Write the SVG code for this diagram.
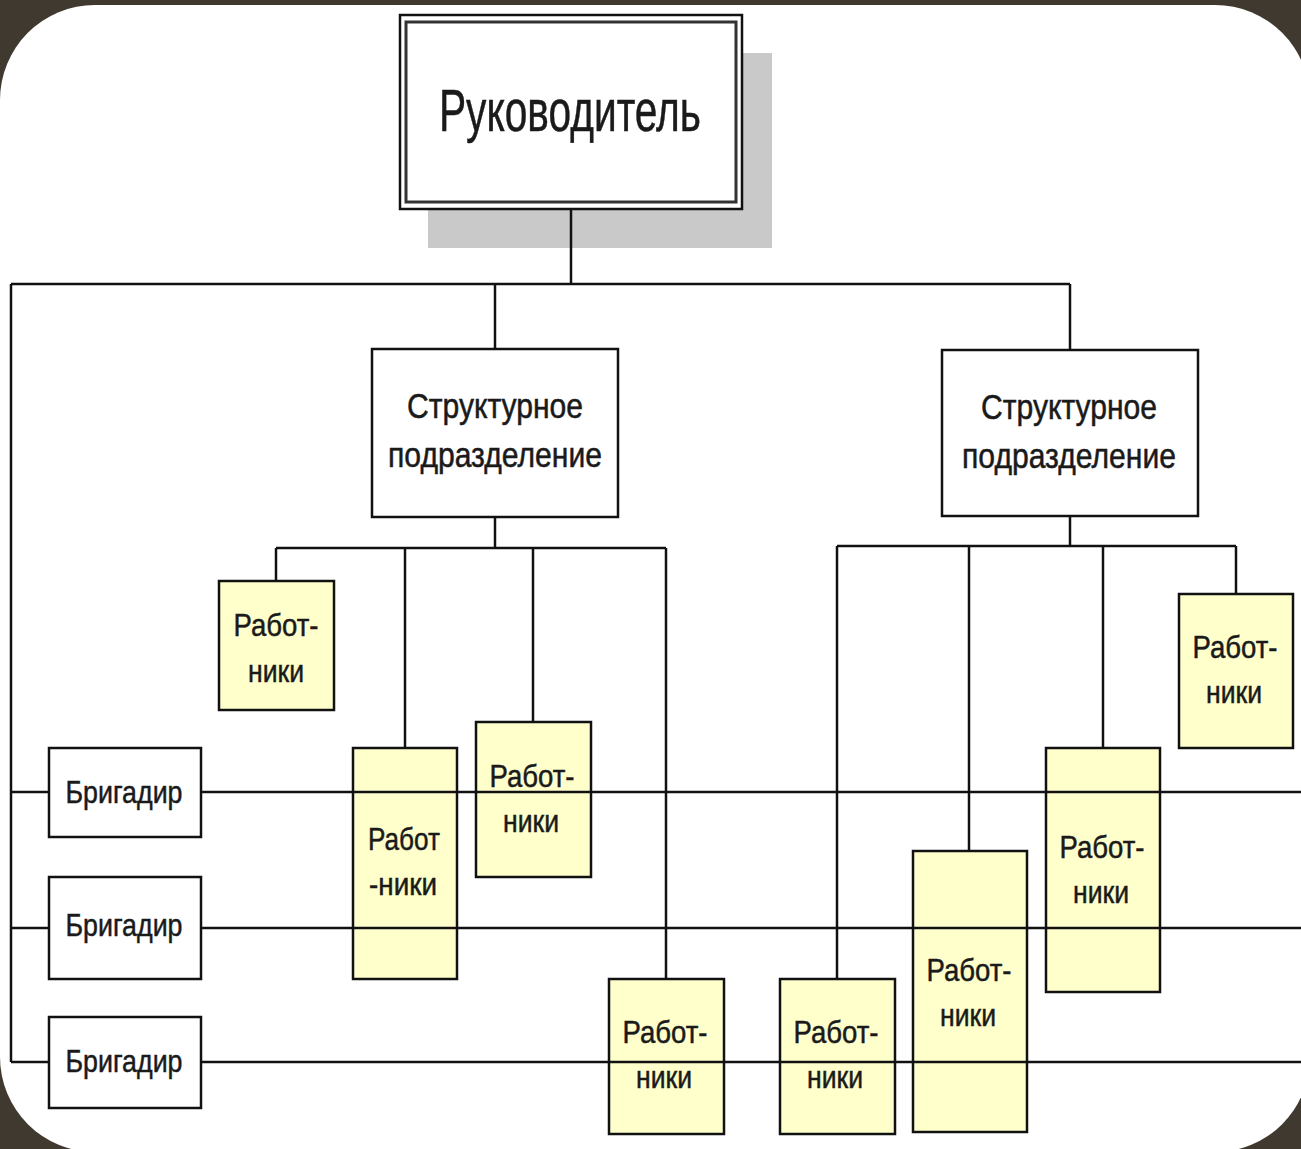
<svg xmlns="http://www.w3.org/2000/svg" width="1301" height="1149" viewBox="0 0 1301 1149">
<style>
.box{fill:#ffffff;stroke:#111;stroke-width:2.5}
.wk{fill:#ffffcc;stroke:#111;stroke-width:2.5}
.ln{stroke:#111;stroke-width:2.5;fill:none}
text{font-family:"Liberation Sans",Arial,sans-serif;fill:#1a1a1a;stroke:#1a1a1a;stroke-width:0.5;text-anchor:middle}
.t1{font-size:59px}
.t2{font-size:35px}
.t3{font-size:32px}
</style>
<rect x="0" y="0" width="1301" height="1149" fill="#403930"/>
<rect x="0" y="5" width="1310" height="1147" rx="95" ry="95" fill="#ffffff"/>

<g id="head">
<rect x="428" y="53" width="344" height="195" fill="#c9c9c9"/>
<rect x="400" y="15" width="342" height="194" class="box"/>
<rect x="406" y="22" width="330" height="180" fill="none" stroke="#333" stroke-width="3"/>
<text x="570" y="131" class="t1" textLength="262" lengthAdjust="spacingAndGlyphs">Руководитель</text>
</g>

<g id="dept1">
<rect x="372" y="349" width="246" height="168" class="box"/>
<text x="495" y="418" class="t2" textLength="176" lengthAdjust="spacingAndGlyphs">Структурное</text>
<text x="495" y="467" class="t2" textLength="214" lengthAdjust="spacingAndGlyphs">подразделение</text>
</g>
<g id="dept2">
<rect x="942" y="350" width="256" height="166" class="box"/>
<text x="1069" y="419" class="t2" textLength="176" lengthAdjust="spacingAndGlyphs">Структурное</text>
<text x="1069" y="468" class="t2" textLength="214" lengthAdjust="spacingAndGlyphs">подразделение</text>
</g>

<g id="brig1">
<rect x="49" y="748" width="152" height="89" class="box"/>
<text x="124" y="803" class="t3" textLength="117" lengthAdjust="spacingAndGlyphs">Бригадир</text>
</g>
<g id="brig2">
<rect x="49" y="877" width="152" height="102" class="box"/>
<text x="124" y="936" class="t3" textLength="117" lengthAdjust="spacingAndGlyphs">Бригадир</text>
</g>
<g id="brig3">
<rect x="49" y="1017" width="152" height="91" class="box"/>
<text x="124" y="1072" class="t3" textLength="117" lengthAdjust="spacingAndGlyphs">Бригадир</text>
</g>

<g id="w1">
<rect x="219" y="581" width="115" height="129" class="wk"/>
<text x="276" y="636" class="t3" textLength="85" lengthAdjust="spacingAndGlyphs">Работ-</text>
<text x="276" y="682" class="t3" textLength="56" lengthAdjust="spacingAndGlyphs">ники</text>
</g>
<g id="w2">
<rect x="353" y="748" width="104" height="231" class="wk"/>
<text x="404" y="850" class="t3" textLength="72" lengthAdjust="spacingAndGlyphs">Работ</text>
<text x="403" y="895" class="t3" textLength="68" lengthAdjust="spacingAndGlyphs">-ники</text>
</g>
<g id="w3">
<rect x="476" y="722" width="115" height="155" class="wk"/>
<text x="532" y="787" class="t3" textLength="85" lengthAdjust="spacingAndGlyphs">Работ-</text>
<text x="531" y="832" class="t3" textLength="56" lengthAdjust="spacingAndGlyphs">ники</text>
</g>
<g id="w4">
<rect x="609" y="979" width="115" height="155" class="wk"/>
<text x="665" y="1043" class="t3" textLength="85" lengthAdjust="spacingAndGlyphs">Работ-</text>
<text x="664" y="1088" class="t3" textLength="56" lengthAdjust="spacingAndGlyphs">ники</text>
</g>
<g id="w5">
<rect x="780" y="979" width="115" height="155" class="wk"/>
<text x="836" y="1043" class="t3" textLength="85" lengthAdjust="spacingAndGlyphs">Работ-</text>
<text x="835" y="1088" class="t3" textLength="56" lengthAdjust="spacingAndGlyphs">ники</text>
</g>
<g id="w6">
<rect x="913" y="851" width="114" height="281" class="wk"/>
<text x="969" y="981" class="t3" textLength="85" lengthAdjust="spacingAndGlyphs">Работ-</text>
<text x="968" y="1026" class="t3" textLength="56" lengthAdjust="spacingAndGlyphs">ники</text>
</g>
<g id="w7">
<rect x="1046" y="748" width="114" height="244" class="wk"/>
<text x="1102" y="858" class="t3" textLength="85" lengthAdjust="spacingAndGlyphs">Работ-</text>
<text x="1101" y="903" class="t3" textLength="56" lengthAdjust="spacingAndGlyphs">ники</text>
</g>
<g id="w8">
<rect x="1179" y="594" width="114" height="154" class="wk"/>
<text x="1235" y="658" class="t3" textLength="85" lengthAdjust="spacingAndGlyphs">Работ-</text>
<text x="1234" y="703" class="t3" textLength="56" lengthAdjust="spacingAndGlyphs">ники</text>
</g>

<g id="connectors" class="ln">
<path d="M571 209 V284"/>
<path d="M11 284 H1070"/>
<path d="M11 284 V1062"/>
<path d="M495 284 V349"/>
<path d="M1070 284 V350"/>
<path d="M495 517 V548"/>
<path d="M276 548 H666"/>
<path d="M276 548 V581"/>
<path d="M405 548 V748"/>
<path d="M533 548 V722"/>
<path d="M666 548 V979"/>
<path d="M1070 516 V546"/>
<path d="M837 546 H1236"/>
<path d="M837 546 V979"/>
<path d="M969 546 V851"/>
<path d="M1103 546 V748"/>
<path d="M1236 546 V594"/>
<path d="M11 792 H49"/>
<path d="M11 928 H49"/>
<path d="M11 1062 H49"/>
<path d="M201 792 H1301"/>
<path d="M201 928 H1301"/>
<path d="M201 1062 H1301"/>
</g>
</svg>
